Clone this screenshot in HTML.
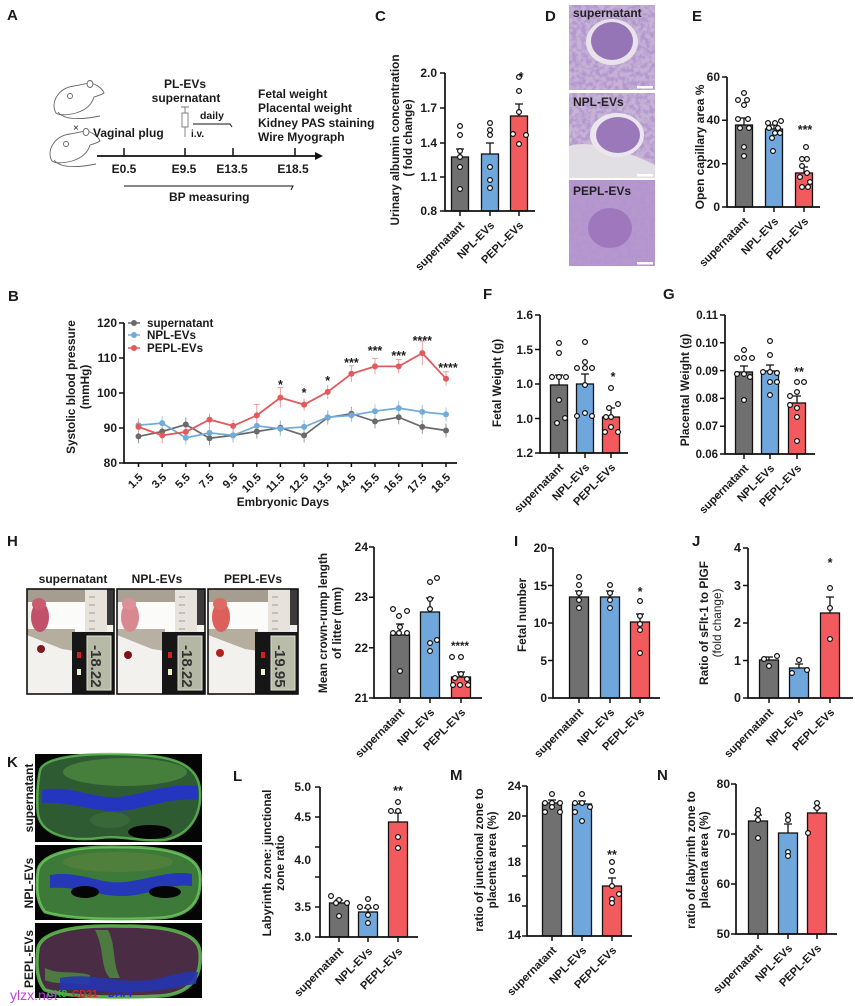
<!DOCTYPE html>
<html><head><meta charset="utf-8">
<style>
html,body{margin:0;padding:0;background:#fff;}
svg{display:block;}
text{font-family:"Liberation Sans",Arial,sans-serif;font-weight:bold;fill:#1b1b1b;}
.pl{font-size:15px;}
.tk{font-size:12px;}
.xl{font-size:11.2px;}
.ti{font-size:11.8px;}
.st{font-size:12.5px;}
.ax{stroke:#111;stroke-width:1.7;fill:none;}
.tm{stroke:#111;stroke-width:1.5;fill:none;}
.g{fill:#707070;stroke:#111;stroke-width:1.3;}
.b{fill:#6fa7dd;stroke:#111;stroke-width:1.3;}
.r{fill:#f25a5d;stroke:#111;stroke-width:1.3;}
.e{stroke:#111;stroke-width:1.3;fill:none;}
.d circle{fill:#fff;stroke:#111;stroke-width:1.2;}
</style></head><body>
<svg width="855" height="1006" viewBox="0 0 855 1006" xmlns="http://www.w3.org/2000/svg">
<defs>
<filter id="his" x="0" y="0" width="100%" height="100%">
<feTurbulence type="fractalNoise" baseFrequency="0.22" numOctaves="2" seed="4"/>
<feColorMatrix type="matrix" values="0 0 0 0 0.45  0 0 0 0 0.30  0 0 0 0 0.62  4 0 0 0 -1.6"/>
</filter>
</defs>
<rect width="855" height="1006" fill="#fff"/>

<!-- ================= PANEL A ================= -->
<text class="pl" x="7" y="20">A</text>
<g fill="#fff" stroke="#666" stroke-width="0.9">
<path d="M56,113 C50,103 58,88 74,86 C82,85 88,82 94,84 C99,86 103,90 104,93 C101,95 97,96 94,97 C92,104 86,110 76,113 C68,115 60,116 56,113 Z"/>
<ellipse cx="90" cy="84" rx="3" ry="3.5"/>
<path d="M58,112 C64,120 80,120 100,116" fill="none"/>
<circle cx="70" cy="96" r="2.5"/>
<g transform="translate(-4,48)">
<path d="M56,113 C50,103 58,88 74,86 C82,85 88,82 94,84 C99,86 103,90 104,93 C101,95 97,96 94,97 C92,104 86,110 76,113 C68,115 60,116 56,113 Z"/>
<ellipse cx="90" cy="84" rx="3" ry="3.5"/>
<path d="M58,112 C64,120 80,120 100,116" fill="none"/>
<circle cx="70" cy="96" r="2.5"/>
</g>
</g>
<text x="73" y="131" style="font-size:10px;font-weight:normal">×</text>
<path d="M97,156 H317" stroke="#111" stroke-width="1.8"/>
<polygon points="315,152 323,156 315,160" fill="#111"/>
<path d="M124,148V156M185,148V156M233,148V156M295,148V156" stroke="#111" stroke-width="1.5"/>
<g style="font-size:12px" text-anchor="middle">
<text x="124" y="173">E0.5</text><text x="184" y="173">E9.5</text><text x="232" y="173">E13.5</text><text x="293" y="173">E18.5</text>
<text x="185" y="88">PL-EVs</text><text x="186" y="102">supernatant</text>
</g>
<text x="93" y="137" style="font-size:12px">Vaginal plug</text>
<g stroke="#777" stroke-width="0.9" fill="#fff">
<path d="M185,107V113M181,107H189"/>
<rect x="182" y="113" width="6" height="14"/>
<path d="M185,127V137"/>
</g>
<text x="191" y="137" style="font-size:10px">i.v.</text>
<text x="200" y="119" style="font-size:10.5px">daily</text>
<path d="M193,124H230L232,127" stroke="#111" stroke-width="1" fill="none"/>
<g style="font-size:12px">
<text x="258" y="98">Fetal weight</text>
<text x="258" y="112">Placental weight</text>
<text x="258" y="127">Kidney PAS staining</text>
<text x="258" y="141">Wire Myograph</text>
</g>
<path d="M124,186H293L291,190" stroke="#111" stroke-width="1" fill="none"/>
<text x="169" y="201" style="font-size:12px">BP measuring</text>

<!-- ================= PANEL C ================= -->
<text class="pl" x="375" y="21">C</text>
<rect class="g" x="451.5" y="157" width="17" height="54"/>
<rect class="b" x="481.5" y="154" width="17" height="57"/>
<rect class="r" x="510.5" y="116" width="17" height="95"/>
<path class="e" d="M460,157V149M456,149h8M490,154V143M486,143h8M519,116V104M515,104h8"/>
<g class="d">
<circle cx="460" cy="126" r="2.4"/><circle cx="460" cy="135" r="2.4"/><circle cx="460" cy="151" r="2.4"/><circle cx="460" cy="157" r="2.4"/><circle cx="460" cy="167" r="2.4"/><circle cx="460" cy="189" r="2.4"/>
<circle cx="490" cy="123" r="2.4"/><circle cx="490" cy="130" r="2.4"/><circle cx="490" cy="135" r="2.4"/><circle cx="490" cy="167" r="2.4"/><circle cx="490" cy="180" r="2.4"/><circle cx="490" cy="188" r="2.4"/>
<circle cx="519" cy="77" r="2.4"/><circle cx="519" cy="91" r="2.4"/><circle cx="519" cy="112" r="2.4"/><circle cx="513" cy="134" r="2.4"/><circle cx="526" cy="135" r="2.4"/><circle cx="519" cy="144" r="2.4"/>
</g>
<path class="ax" d="M445,73V211H535"/>
<path class="tm" d="M440,73H445M440,108H445M440,143H445M440,177H445M440,211H445M460,211V216M490,211V216M519,211V216"/>
<g class="tk" text-anchor="end"><text x="437" y="77">2.0</text><text x="437" y="112">1.7</text><text x="437" y="147">1.4</text><text x="437" y="181">1.1</text><text x="437" y="215">0.8</text></g>
<text class="st" x="521" y="81" text-anchor="middle">*</text>
<text class="ti" text-anchor="middle" transform="translate(399,140) rotate(-90)">Urinary albumin concentration</text>
<text class="ti" text-anchor="middle" transform="translate(412,138) rotate(-90)">( fold change)</text>
<g class="xl" text-anchor="end">
<text transform="translate(465,226) rotate(-45)">supernatant</text>
<text transform="translate(495,226) rotate(-45)">NPL-EVs</text>
<text transform="translate(524,226) rotate(-45)">PEPL-EVs</text>
</g>

<!-- ================= PANEL D ================= -->
<text class="pl" x="545" y="21">D</text>
<rect x="569" y="5" width="86" height="85" fill="#c5b2d6"/>
<rect x="569" y="5" width="86" height="85" filter="url(#his)" opacity="0.9"/>
<ellipse cx="612" cy="42" rx="26" ry="23" fill="#e8e2eb"/>
<ellipse cx="612" cy="41" rx="21" ry="19" fill="#9675b6"/>
<rect x="569" y="93" width="86" height="85" fill="#c6b4d6"/>
<rect x="569" y="93" width="86" height="85" filter="url(#his)" opacity="0.9"/>
<path d="M569,146 C590,140 620,150 640,158 L655,165 V178 H569Z" fill="#e2dfe4"/>
<ellipse cx="617" cy="135" rx="27" ry="22" fill="#ebe6ed"/>
<ellipse cx="618" cy="135" rx="22" ry="18" fill="#9a78ba"/>
<rect x="569" y="180" width="86" height="86" fill="#b697ce"/>
<rect x="569" y="180" width="86" height="86" filter="url(#his)" opacity="0.95"/>
<ellipse cx="610" cy="228" rx="22" ry="20" fill="#9a72b8" opacity="0.85"/>
<g fill="#fff"><rect x="637" y="86" width="16" height="2.5"/><rect x="637" y="174" width="16" height="2.5"/><rect x="637" y="262" width="16" height="2.5"/></g>
<g style="font-size:12px">
<text x="573" y="17" style="fill:#222">supernatant</text><text x="573" y="106" style="fill:#222">NPL-EVs</text><text x="573" y="195" style="fill:#222">PEPL-EVs</text>
</g>

<!-- ================= PANEL E ================= -->
<text class="pl" x="692" y="21">E</text>
<rect class="g" x="735.5" y="125" width="17" height="82"/>
<rect class="b" x="765.5" y="129" width="17" height="78"/>
<rect class="r" x="795.5" y="173" width="17" height="34"/>
<path class="e" d="M744,125V118M740,118h8M774,129V125M770,125h8M804,173V167M800,167h8"/>
<g class="d">
<circle cx="744" cy="93" r="2.4"/><circle cx="738" cy="100" r="2.4"/><circle cx="747" cy="100" r="2.4"/><circle cx="744" cy="105" r="2.4"/><circle cx="738" cy="119" r="2.4"/><circle cx="748" cy="119" r="2.4"/><circle cx="740" cy="128" r="2.4"/><circle cx="749" cy="128" r="2.4"/><circle cx="744" cy="147" r="2.4"/><circle cx="744" cy="156" r="2.4"/>
<circle cx="768" cy="123" r="2.4"/><circle cx="775" cy="123" r="2.4"/><circle cx="781" cy="121" r="2.4"/><circle cx="769" cy="128" r="2.4"/><circle cx="778" cy="128" r="2.4"/><circle cx="775" cy="133" r="2.4"/><circle cx="780" cy="133" r="2.4"/><circle cx="772" cy="138" r="2.4"/><circle cx="773" cy="151" r="2.4"/>
<circle cx="806" cy="147" r="2.4"/><circle cx="802" cy="159" r="2.4"/><circle cx="807" cy="159" r="2.4"/><circle cx="802" cy="166" r="2.4"/><circle cx="807" cy="173" r="2.4"/><circle cx="800" cy="177" r="2.4"/><circle cx="802" cy="187" r="2.4"/><circle cx="808" cy="187" r="2.4"/><circle cx="810" cy="182" r="2.4"/>
</g>
<path class="ax" d="M727,77V207H820"/>
<path class="tm" d="M722,77H727M722,120.3H727M722,163.7H727M722,207H727M744,207V212M774,207V212M804,207V212"/>
<g class="tk" text-anchor="end"><text x="720" y="81">60</text><text x="720" y="124">40</text><text x="720" y="168">20</text><text x="720" y="211">0</text></g>
<text class="st" x="805" y="134" text-anchor="middle">***</text>
<text class="ti" text-anchor="middle" transform="translate(704,147) rotate(-90)" style="font-size:12px">Open capillary area %</text>
<g class="xl" text-anchor="end">
<text transform="translate(749,222) rotate(-45)">supernatant</text>
<text transform="translate(779,222) rotate(-45)">NPL-EVs</text>
<text transform="translate(809,222) rotate(-45)">PEPL-EVs</text>
</g>

<!-- ================= PANEL B ================= -->
<text class="pl" x="8" y="301">B</text>
<path stroke="#9a9a9a" stroke-width="1" fill="none" d="M138.5,429.4V443.4M162.2,424.5V438.5M185.8,417.5V431.5M209.5,431.2V445.2M233.1,428.4V442.4M256.8,424.5V438.5M280.4,420.7V434.7M304.1,428.4V442.4M327.7,410.5V424.5M351.4,406.7V420.7M375,414.4V428.4M398.7,410.2V424.2M422.3,419.9V433.9M446,423.5V437.5"/>
<path stroke="#a3c8e8" stroke-width="1" fill="none" d="M138.5,418.2V432.2M162.2,416.1V430.1M185.8,430.8V444.8M209.5,425.9V439.9M233.1,428.4V442.4M256.8,418.9V432.9M280.4,421.7V435.7M304.1,419.9V433.9M327.7,410.2V424.2M351.4,408.4V422.4M375,404.2V418.2M398.7,401.1V415.1M422.3,404.9V418.9M446,407.4V421.4"/>
<path stroke="#ec9fa1" stroke-width="1" fill="none" d="M138.5,418.9V434.9M162.2,427.4V443.4M185.8,423.9V439.9M209.5,413.6V425.6M233.1,419.9V431.9M256.8,404.4V426.4M280.4,387.6V407.6M304.1,398.6V410.6M327.7,384.9V398.9M351.4,365.8V381.8M375,358.4V374.4M398.7,359.4V373.4M422.3,341.1V365.1M446,371.7V385.7M253.8,404.4h6M277.4,387.6h6M349,365.8h5M372,358.4h6M395.7,359.4h6M419.3,341.1h6M443,371.7h6"/>
<polyline fill="none" stroke="#6a6a6a" stroke-width="1.7" points="138.5,436.4 162.2,431.5 185.8,424.5 209.5,438.2 233.1,435.4 256.8,431.5 280.4,427.7 304.1,435.4 327.7,417.5 351.4,413.7 375,421.4 398.7,417.2 422.3,426.9 446,430.5"/>
<polyline fill="none" stroke="#74aad8" stroke-width="1.7" points="138.5,425.2 162.2,423.1 185.8,437.8 209.5,432.9 233.1,435.4 256.8,425.9 280.4,428.7 304.1,426.9 327.7,417.2 351.4,415.4 375,411.2 398.7,408.1 422.3,411.9 446,414.4"/>
<polyline fill="none" stroke="#e05a5e" stroke-width="1.8" points="138.5,426.9 162.2,435.4 185.8,431.9 209.5,419.6 233.1,425.9 256.8,415.4 280.4,397.6 304.1,404.6 327.7,391.9 351.4,373.8 375,366.4 398.7,366.4 422.3,353.1 446,378.7"/>
<g fill="#6a6a6a">
<circle cx="138.5" cy="436.4" r="3"/><circle cx="162.2" cy="431.5" r="3"/><circle cx="185.8" cy="424.5" r="3"/><circle cx="209.5" cy="438.2" r="3"/><circle cx="233.1" cy="435.4" r="3"/><circle cx="256.8" cy="431.5" r="3"/><circle cx="280.4" cy="427.7" r="3"/><circle cx="304.1" cy="435.4" r="3"/><circle cx="327.7" cy="417.5" r="3"/><circle cx="351.4" cy="413.7" r="3"/><circle cx="375" cy="421.4" r="3"/><circle cx="398.7" cy="417.2" r="3"/><circle cx="422.3" cy="426.9" r="3"/><circle cx="446" cy="430.5" r="3"/>
</g>
<g fill="#74aad8">
<circle cx="138.5" cy="425.2" r="3"/><circle cx="162.2" cy="423.1" r="3"/><circle cx="185.8" cy="437.8" r="3"/><circle cx="209.5" cy="432.9" r="3"/><circle cx="233.1" cy="435.4" r="3"/><circle cx="256.8" cy="425.9" r="3"/><circle cx="280.4" cy="428.7" r="3"/><circle cx="304.1" cy="426.9" r="3"/><circle cx="327.7" cy="417.2" r="3"/><circle cx="351.4" cy="415.4" r="3"/><circle cx="375" cy="411.2" r="3"/><circle cx="398.7" cy="408.1" r="3"/><circle cx="422.3" cy="411.9" r="3"/><circle cx="446" cy="414.4" r="3"/>
</g>
<g fill="#e05a5e">
<circle cx="138.5" cy="426.9" r="3"/><circle cx="162.2" cy="435.4" r="3"/><circle cx="185.8" cy="431.9" r="3"/><circle cx="209.5" cy="419.6" r="3"/><circle cx="233.1" cy="425.9" r="3"/><circle cx="256.8" cy="415.4" r="3"/><circle cx="280.4" cy="397.6" r="3"/><circle cx="304.1" cy="404.6" r="3"/><circle cx="327.7" cy="391.9" r="3"/><circle cx="351.4" cy="373.8" r="3"/><circle cx="375" cy="366.4" r="3"/><circle cx="398.7" cy="366.4" r="3"/><circle cx="422.3" cy="353.1" r="3"/><circle cx="446" cy="378.7" r="3"/>
</g>
<path class="ax" d="M124,323V463H457"/>
<path class="tm" d="M119,323H124M119,358H124M119,393H124M119,428H124M119,463H124M138.5,463v4M162.2,463v4M185.8,463v4M209.5,463v4M233.1,463v4M256.8,463v4M280.4,463v4M304.1,463v4M327.7,463v4M351.4,463v4M375,463v4M398.7,463v4M422.3,463v4M446,463v4"/>
<g class="tk" text-anchor="end"><text x="117" y="327">120</text><text x="117" y="362">110</text><text x="117" y="397">100</text><text x="117" y="432">90</text><text x="117" y="467">80</text></g>
<g class="xl" text-anchor="end">
<text transform="translate(143.5,478) rotate(-45)">1.5</text>
<text transform="translate(167.2,478) rotate(-45)">3.5</text>
<text transform="translate(190.8,478) rotate(-45)">5.5</text>
<text transform="translate(214.5,478) rotate(-45)">7.5</text>
<text transform="translate(238.1,478) rotate(-45)">9.5</text>
<text transform="translate(261.8,478) rotate(-45)">10.5</text>
<text transform="translate(285.4,478) rotate(-45)">11.5</text>
<text transform="translate(309.1,478) rotate(-45)">12.5</text>
<text transform="translate(332.7,478) rotate(-45)">13.5</text>
<text transform="translate(356.4,478) rotate(-45)">14.5</text>
<text transform="translate(380,478) rotate(-45)">15.5</text>
<text transform="translate(403.7,478) rotate(-45)">16.5</text>
<text transform="translate(427.3,478) rotate(-45)">17.5</text>
<text transform="translate(451,478) rotate(-45)">18.5</text>
</g>
<g class="st" text-anchor="middle">
<text x="280.4" y="389">*</text><text x="304.1" y="397">*</text><text x="327.7" y="385">*</text><text x="351.4" y="367">***</text><text x="375" y="355">***</text><text x="398.7" y="360">***</text><text x="422.3" y="345">****</text><text x="448" y="372">****</text>
</g>
<path d="M128,323H140" stroke="#6a6a6a" stroke-width="1.5"/><circle cx="134" cy="323" r="3" fill="#6a6a6a"/>
<path d="M128,335H140" stroke="#74aad8" stroke-width="1.5"/><circle cx="134" cy="335" r="3" fill="#74aad8"/>
<path d="M128,348H140" stroke="#e05a5e" stroke-width="1.5"/><circle cx="134" cy="348" r="3" fill="#e05a5e"/>
<g style="font-size:11.6px"><text x="147" y="327">supernatant</text><text x="147" y="339">NPL-EVs</text><text x="147" y="352">PEPL-EVs</text></g>
<text x="283" y="506" text-anchor="middle" style="font-size:11.8px">Embryonic Days</text>
<text class="ti" text-anchor="middle" transform="translate(75,387) rotate(-90)">Systolic blood pressure</text>
<text class="ti" text-anchor="middle" transform="translate(89,387) rotate(-90)">(mmHg)</text>

<!-- ================= PANEL F ================= -->
<text class="pl" x="483" y="299">F</text>
<rect class="g" x="550.5" y="385" width="17" height="68"/>
<rect class="b" x="576.5" y="384" width="17" height="69"/>
<rect class="r" x="602.5" y="417" width="17" height="36"/>
<path class="e" d="M559,385V375M555,375h8M585,384V374M581,374h8M611,417V408M607,408h8"/>
<g class="d">
<circle cx="559" cy="343" r="2.4"/><circle cx="559" cy="353" r="2.4"/><circle cx="552" cy="377" r="2.4"/><circle cx="559" cy="377" r="2.4"/><circle cx="566" cy="377" r="2.4"/><circle cx="559" cy="400" r="2.4"/><circle cx="557" cy="423" r="2.4"/><circle cx="565" cy="418" r="2.4"/>
<circle cx="585" cy="342" r="2.4"/><circle cx="585" cy="362" r="2.4"/><circle cx="577" cy="368" r="2.4"/><circle cx="585" cy="368" r="2.4"/><circle cx="592" cy="368" r="2.4"/><circle cx="585" cy="385" r="2.4"/><circle cx="577" cy="416" r="2.4"/><circle cx="585" cy="413" r="2.4"/><circle cx="592" cy="416" r="2.4"/>
<circle cx="611" cy="388" r="2.4"/><circle cx="609" cy="408" r="2.4"/><circle cx="618" cy="404" r="2.4"/><circle cx="605" cy="432" r="2.4"/><circle cx="618" cy="432" r="2.4"/><circle cx="611" cy="427" r="2.4"/><circle cx="611" cy="417" r="2.4"/><circle cx="606" cy="417" r="2.4"/>
</g>
<path class="ax" d="M540,315V453H628"/>
<path class="tm" d="M535,315H540M535,349.5H540M535,384H540M535,418.5H540M535,453H540M559,453v5M585,453v5M611,453v5"/>
<g class="tk" text-anchor="end"><text x="533" y="319">1.6</text><text x="533" y="354">1.5</text><text x="533" y="388">1.0</text><text x="533" y="423">1.0</text><text x="533" y="457">1.2</text></g>
<text class="st" x="613" y="381" text-anchor="middle">*</text>
<text class="ti" text-anchor="middle" transform="translate(501,383) rotate(-90)">Fetal Weight (g)</text>
<g class="xl" text-anchor="end">
<text transform="translate(564,468) rotate(-45)">supernatant</text>
<text transform="translate(590,468) rotate(-45)">NPL-EVs</text>
<text transform="translate(616,468) rotate(-45)">PEPL-EVs</text>
</g>

<!-- ================= PANEL G ================= -->
<text class="pl" x="663" y="299">G</text>
<rect class="g" x="735.5" y="372" width="17" height="82"/>
<rect class="b" x="761.5" y="371" width="17" height="83"/>
<rect class="r" x="788.5" y="403" width="17" height="51"/>
<path class="e" d="M744,372V366M740,366h8M770,371V365M766,365h8M797,403V396M793,396h8"/>
<g class="d">
<circle cx="744" cy="350" r="2.4"/><circle cx="737" cy="358" r="2.4"/><circle cx="744" cy="358" r="2.4"/><circle cx="752" cy="358" r="2.4"/><circle cx="737" cy="374" r="2.4"/><circle cx="744" cy="374" r="2.4"/><circle cx="750" cy="377" r="2.4"/><circle cx="744" cy="400" r="2.4"/>
<circle cx="770" cy="341" r="2.4"/><circle cx="770" cy="355" r="2.4"/><circle cx="763" cy="372" r="2.4"/><circle cx="770" cy="372" r="2.4"/><circle cx="777" cy="373" r="2.4"/><circle cx="770" cy="382" r="2.4"/><circle cx="777" cy="382" r="2.4"/><circle cx="770" cy="395" r="2.4"/>
<circle cx="797" cy="382" r="2.4"/><circle cx="804" cy="382" r="2.4"/><circle cx="797" cy="392" r="2.4"/><circle cx="790" cy="396" r="2.4"/><circle cx="790" cy="405" r="2.4"/><circle cx="797" cy="408" r="2.4"/><circle cx="797" cy="417" r="2.4"/><circle cx="797" cy="441" r="2.4"/>
</g>
<path class="ax" d="M725,315V454H815"/>
<path class="tm" d="M720,315H725M720,342.8H725M720,370.6H725M720,398.4H725M720,426.2H725M720,454H725M744,454v5M770,454v5M797,454v5"/>
<g class="tk" text-anchor="end" style="font-size:11.5px"><text x="718" y="319">0.11</text><text x="718" y="347">0.10</text><text x="718" y="375">0.09</text><text x="718" y="402">0.08</text><text x="718" y="430">0.07</text><text x="718" y="458">0.06</text></g>
<text class="st" x="799" y="376" text-anchor="middle">**</text>
<text class="ti" text-anchor="middle" transform="translate(689,390) rotate(-90)">Placental Weight (g)</text>
<g class="xl" text-anchor="end">
<text transform="translate(749,469) rotate(-45)">supernatant</text>
<text transform="translate(775,469) rotate(-45)">NPL-EVs</text>
<text transform="translate(802,469) rotate(-45)">PEPL-EVs</text>
</g>

<!-- ================= PANEL H ================= -->
<text class="pl" x="7" y="546">H</text>
<g style="font-size:12px" text-anchor="middle"><text x="73" y="583">supernatant</text><text x="157" y="583">NPL-EVs</text><text x="253" y="583">PEPL-EVs</text></g>
<g transform="translate(27,589)">
<rect width="87" height="105" fill="#f3f1ee"/>
<rect width="60" height="13" fill="#a49d90"/>
<rect x="18" y="13" width="40" height="29" fill="#fbfbf9"/>
<rect x="58" y="0" width="22" height="46" fill="#e7e3db"/>
<path d="M62,8h6M62,16h6M62,24h6M62,32h6M62,40h6" stroke="#888" stroke-width="0.8"/>
<rect x="80" y="0" width="7" height="36" fill="#3a3a3a"/>
<polygon points="0,40 48,40 48,62 35,60 0,46" fill="#b5ae9f"/>
<rect x="45" y="43" width="42" height="62" fill="#161616"/>
<rect x="60" y="47" width="24" height="54" fill="#b7baa6" stroke="#e0e0d8" stroke-width="1"/>
<rect x="50" y="63" width="4" height="6" fill="#d02020"/><rect x="50" y="80" width="4" height="6" fill="#f0f0d0"/>
<text transform="translate(64,56) rotate(90)" style="font-size:15px;fill:#333">-18.22</text>
<ellipse cx="13" cy="28" rx="9" ry="15" fill="#c2506a"/>
<ellipse cx="12" cy="15" rx="7" ry="6" fill="#c95a70"/>
<circle cx="14" cy="60" r="4" fill="#7d1a1e"/>
<rect width="87" height="105" fill="none" stroke="#111" stroke-width="1.6"/>
</g>
<g transform="translate(117,589)">
<rect width="88" height="105" fill="#f3f1ee"/>
<rect width="60" height="13" fill="#a8a194"/>
<rect x="18" y="13" width="40" height="29" fill="#fbfbf9"/>
<rect x="58" y="0" width="22" height="46" fill="#e7e3db"/>
<path d="M62,8h6M62,16h6M62,24h6M62,32h6M62,40h6" stroke="#888" stroke-width="0.8"/>
<rect x="80" y="0" width="8" height="36" fill="#3a3a3a"/>
<polygon points="0,40 48,40 48,62 35,60 0,46" fill="#b8b1a3"/>
<rect x="45" y="43" width="43" height="62" fill="#161616"/>
<rect x="61" y="47" width="24" height="54" fill="#b4b7a3" stroke="#e0e0d8" stroke-width="1"/>
<rect x="51" y="63" width="4" height="6" fill="#d02020"/><rect x="51" y="80" width="4" height="6" fill="#f0f0d0"/>
<text transform="translate(65,56) rotate(90)" style="font-size:15px;fill:#333">-18.22</text>
<ellipse cx="13" cy="28" rx="9" ry="15" fill="#d8888f"/>
<ellipse cx="12" cy="15" rx="7" ry="6" fill="#dc9098"/>
<circle cx="11" cy="66" r="4" fill="#7a1518"/>
<rect width="88" height="105" fill="none" stroke="#111" stroke-width="1.6"/>
</g>
<g transform="translate(208,589)">
<rect width="90" height="105" fill="#f3f1ee"/>
<rect width="62" height="13" fill="#a49d90"/>
<rect x="18" y="13" width="42" height="29" fill="#fbfbf9"/>
<rect x="60" y="0" width="22" height="46" fill="#e7e3db"/>
<path d="M64,8h6M64,16h6M64,24h6M64,32h6M64,40h6" stroke="#888" stroke-width="0.8"/>
<rect x="82" y="0" width="8" height="36" fill="#3a3a3a"/>
<polygon points="0,40 50,40 50,62 37,60 0,46" fill="#b5ae9f"/>
<rect x="47" y="43" width="43" height="62" fill="#161616"/>
<rect x="63" y="47" width="24" height="54" fill="#b9bca8" stroke="#e0e0d8" stroke-width="1"/>
<rect x="53" y="63" width="4" height="6" fill="#d02020"/><rect x="53" y="80" width="4" height="6" fill="#f0f0d0"/>
<text transform="translate(67,56) rotate(90)" style="font-size:15px;fill:#333">-19.95</text>
<ellipse cx="13" cy="28" rx="9" ry="15" fill="#dc5f5b"/>
<ellipse cx="12" cy="15" rx="7" ry="6" fill="#de6a64"/>
<circle cx="12" cy="64" r="4" fill="#b3201d"/>
<rect width="90" height="105" fill="none" stroke="#111" stroke-width="1.6"/>
</g>
<rect class="g" x="390.5" y="635" width="19" height="63"/>
<rect class="b" x="420.5" y="612" width="19" height="86"/>
<rect class="r" x="451.5" y="677" width="19" height="21"/>
<path class="e" d="M400,635V624M396,624h8M430,612V598M426,598h8M461,677V672M457,672h8"/>
<g class="d">
<circle cx="393" cy="609" r="2.4"/><circle cx="399" cy="616" r="2.4"/><circle cx="407" cy="611" r="2.4"/><circle cx="393" cy="633" r="2.4"/><circle cx="399" cy="633" r="2.4"/><circle cx="407" cy="633" r="2.4"/><circle cx="400" cy="627" r="2.4"/><circle cx="400" cy="671" r="2.4"/>
<circle cx="430" cy="582" r="2.4"/><circle cx="437" cy="578" r="2.4"/><circle cx="430" cy="599" r="2.4"/><circle cx="430" cy="609" r="2.4"/><circle cx="430" cy="643" r="2.4"/><circle cx="430" cy="651" r="2.4"/><circle cx="437" cy="640" r="2.4"/>
<circle cx="452" cy="657" r="2.4"/><circle cx="461" cy="657" r="2.4"/><circle cx="455" cy="678" r="2.4"/><circle cx="461" cy="674" r="2.4"/><circle cx="467" cy="679" r="2.4"/><circle cx="453" cy="685" r="2.4"/><circle cx="460" cy="685" r="2.4"/><circle cx="468" cy="685" r="2.4"/>
</g>
<path class="ax" d="M374,547V698H482"/>
<path class="tm" d="M369,547H374M369,597.3H374M369,647.7H374M369,698H374M400,698v5M430,698v5M461,698v5"/>
<g class="tk" text-anchor="end"><text x="368" y="551">24</text><text x="368" y="601">23</text><text x="368" y="652">22</text><text x="368" y="702">21</text></g>
<text class="st" x="460" y="650" text-anchor="middle" style="font-size:11.5px">****</text>
<text class="ti" text-anchor="middle" transform="translate(327,623) rotate(-90)">Mean crown-rump length</text>
<text class="ti" text-anchor="middle" transform="translate(341,623) rotate(-90)">of litter (mm)</text>
<g class="xl" text-anchor="end">
<text transform="translate(405,713) rotate(-45)">supernatant</text>
<text transform="translate(435,713) rotate(-45)">NPL-EVs</text>
<text transform="translate(466,713) rotate(-45)">PEPL-EVs</text>
</g>

<!-- ================= PANEL I ================= -->
<text class="pl" x="514" y="546">I</text>
<rect class="g" x="569.5" y="597" width="19" height="101"/>
<rect class="b" x="600.5" y="597" width="19" height="101"/>
<rect class="r" x="630.5" y="622" width="19" height="76"/>
<path class="e" d="M579,597V591M575,591h8M610,597V591M606,591h8M640,622V614M636,614h8"/>
<g class="d">
<circle cx="579" cy="577" r="2.4"/><circle cx="579" cy="585" r="2.4"/><circle cx="579" cy="593" r="2.4"/><circle cx="579" cy="600" r="2.4"/><circle cx="579" cy="608" r="2.4"/>
<circle cx="610" cy="585" r="2.4"/><circle cx="610" cy="593" r="2.4"/><circle cx="610" cy="600" r="2.4"/><circle cx="610" cy="608" r="2.4"/>
<circle cx="640" cy="601" r="2.4"/><circle cx="640" cy="616" r="2.4"/><circle cx="640" cy="624" r="2.4"/><circle cx="640" cy="630" r="2.4"/><circle cx="640" cy="653" r="2.4"/>
</g>
<path class="ax" d="M553,548V698H660"/>
<path class="tm" d="M548,548H553M548,585.5H553M548,623H553M548,660.5H553M548,698H553M579,698v5M610,698v5M640,698v5"/>
<g class="tk" text-anchor="end"><text x="547" y="552">20</text><text x="547" y="590">15</text><text x="547" y="627">10</text><text x="547" y="665">5</text><text x="547" y="702">0</text></g>
<text class="st" x="640" y="596" text-anchor="middle">*</text>
<text class="ti" text-anchor="middle" transform="translate(526,615) rotate(-90)">Fetal number</text>
<g class="xl" text-anchor="end">
<text transform="translate(584,713) rotate(-45)">supernatant</text>
<text transform="translate(615,713) rotate(-45)">NPL-EVs</text>
<text transform="translate(645,713) rotate(-45)">PEPL-EVs</text>
</g>

<!-- ================= PANEL J ================= -->
<text class="pl" x="692" y="546">J</text>
<rect class="g" x="759.5" y="660" width="19" height="38"/>
<rect class="b" x="789.5" y="668" width="19" height="30"/>
<rect class="r" x="820.5" y="613" width="19" height="85"/>
<path class="e" d="M769,660V657M765,657h8M799,668V664M795,664h8M830,613V597M826,597h8"/>
<g class="d">
<circle cx="769" cy="666" r="2.4"/><circle cx="777" cy="656" r="2.4"/><circle cx="764" cy="659" r="2.4"/>
<circle cx="792" cy="673" r="2.4"/><circle cx="799" cy="660" r="2.4"/><circle cx="807" cy="670" r="2.4"/>
<circle cx="830" cy="588" r="2.4"/><circle cx="830" cy="608" r="2.4"/><circle cx="830" cy="639" r="2.4"/>
</g>
<path class="ax" d="M748,548V698H853"/>
<path class="tm" d="M743,548H748M743,585.5H748M743,623H748M743,660.5H748M743,698H748M769,698v5M799,698v5M830,698v5"/>
<g class="tk" text-anchor="end" style="font-size:12.5px"><text x="741" y="552">4</text><text x="741" y="590">3</text><text x="741" y="627">2</text><text x="741" y="665">1</text><text x="741" y="702">0</text></g>
<text class="st" x="830" y="567" text-anchor="middle">*</text>
<text class="ti" text-anchor="middle" transform="translate(708,623) rotate(-90)">Ratio of sFlt-1 to PlGF</text>
<text class="ti" text-anchor="middle" transform="translate(721,623) rotate(-90)" style="font-weight:normal">(fold change)</text>
<g class="xl" text-anchor="end">
<text transform="translate(774,713) rotate(-45)">supernatant</text>
<text transform="translate(804,713) rotate(-45)">NPL-EVs</text>
<text transform="translate(835,713) rotate(-45)">PEPL-EVs</text>
</g>

<!-- ================= PANEL K ================= -->
<text class="pl" x="7" y="767">K</text>
<rect x="35" y="754" width="167" height="88" fill="#050505"/>
<path d="M40,770 C45,756 90,752 140,755 C175,757 198,765 200,790 C202,815 190,835 165,840 C140,842 120,835 100,838 C70,842 42,835 38,815 C36,800 38,780 40,770 Z" fill="#2f5b33"/>
<ellipse cx="125" cy="772" rx="62" ry="14" fill="#4f8f3e" opacity="0.7"/>
<path d="M40,770 C45,756 90,752 140,755 C175,757 198,765 200,790 C202,815 190,835 165,840 C140,842 120,835 100,838 C70,842 42,835 38,815 C36,800 38,780 40,770 Z" fill="none" stroke="#62c455" stroke-width="2.5" opacity="0.8"/>
<path d="M42,790 C70,784 95,800 120,797 C145,794 165,783 198,786 L198,800 C170,797 145,809 120,811 C95,813 70,801 42,803 Z" fill="#2436c0"/>
<ellipse cx="150" cy="832" rx="22" ry="7" fill="#050505"/>
<ellipse cx="110" cy="820" rx="20" ry="8" fill="#3c6e3a" opacity="0.7"/>
<rect x="35" y="845" width="167" height="75" fill="#050505"/>
<path d="M38,870 C42,852 80,846 120,847 C160,847 198,852 200,875 C202,900 192,916 160,918 C120,920 70,920 45,912 C36,902 36,885 38,870 Z" fill="#3d7a3a"/>
<path d="M38,870 C42,852 80,846 120,847 C160,847 198,852 200,875 C202,900 192,916 160,918 C120,920 70,920 45,912 C36,902 36,885 38,870 Z" fill="none" stroke="#6fd060" stroke-width="3" opacity="0.8"/>
<ellipse cx="118" cy="862" rx="55" ry="10" fill="#557f3c" opacity="0.8"/>
<path d="M50,875 C80,870 100,885 125,882 C150,879 170,870 192,874 L192,886 C170,883 150,895 125,896 C100,897 80,886 50,888 Z" fill="#2538b8"/>
<ellipse cx="85" cy="892" rx="14" ry="6" fill="#050505"/>
<ellipse cx="165" cy="892" rx="16" ry="6" fill="#050505"/>
<rect x="35" y="923" width="167" height="75" fill="#050505"/>
<path d="M38,948 C42,930 80,925 120,926 C160,926 198,930 200,952 C202,975 192,994 160,996 C120,998 70,998 45,990 C36,980 36,962 38,948 Z" fill="#4a2c45"/>
<path d="M38,948 C42,930 80,925 120,926 C160,926 198,930 200,952 C202,975 192,994 160,996 C120,998 70,998 45,990 C36,980 36,962 38,948 Z" fill="none" stroke="#5fc050" stroke-width="3.5" opacity="0.85"/>
<path d="M95,930 C105,950 100,968 110,978 L120,978 C112,962 116,945 108,930 Z" fill="#4e8f3e" opacity="0.8"/>
<path d="M45,968 C60,975 70,970 90,975 L90,985 C70,982 55,985 45,980 Z" fill="#4e8f3e" opacity="0.8"/>
<path d="M60,978 C90,972 120,984 150,980 C170,977 185,970 198,972 L196,984 C180,986 160,992 130,992 C100,992 80,988 60,990 Z" fill="#2535b0" opacity="0.9"/>
<g style="font-size:12px" text-anchor="middle">
<text transform="translate(33,798) rotate(-90)">supernatant</text>
<text transform="translate(33,883) rotate(-90)">NPL-EVs</text>
<text transform="translate(33,959) rotate(-90)">PEPL-EVs</text>
</g>
<text x="47" y="997" style="font-size:10px;fill:#3fb040">CK8</text>
<text x="72" y="997" style="font-size:10px;fill:#c03030">CD31</text>
<text x="108" y="997" style="font-size:10px;fill:#2030d0">DAPI</text>
<text x="10" y="1000" style="font-size:14px;font-weight:normal;fill:#c23fe0">ylzx.net</text>

<!-- ================= PANEL L ================= -->
<text class="pl" x="233" y="781">L</text>
<rect class="g" x="329.5" y="903" width="19" height="34"/>
<rect class="b" x="358.5" y="912" width="19" height="25"/>
<rect class="r" x="388.5" y="822" width="19" height="115"/>
<path class="e" d="M339,903V900M335,900h8M368,912V908M364,908h8M398,822V813M394,813h8"/>
<g class="d">
<circle cx="331" cy="896" r="2.4"/><circle cx="339" cy="900" r="2.4"/><circle cx="347" cy="903" r="2.4"/><circle cx="336" cy="903" r="2.4"/><circle cx="339" cy="916" r="2.4"/>
<circle cx="368" cy="899" r="2.4"/><circle cx="360" cy="907" r="2.4"/><circle cx="368" cy="907" r="2.4"/><circle cx="376" cy="907" r="2.4"/><circle cx="368" cy="915" r="2.4"/><circle cx="368" cy="923" r="2.4"/>
<circle cx="398" cy="802" r="2.4"/><circle cx="391" cy="811" r="2.4"/><circle cx="398" cy="811" r="2.4"/><circle cx="398" cy="837" r="2.4"/><circle cx="398" cy="848" r="2.4"/>
</g>
<path class="ax" d="M320,787V937H418"/>
<path class="tm" d="M315,787H320M315,817H320M315,847H320M315,877H320M315,907H320M315,937H320M339,937v5M368,937v5M398,937v5"/>
<g class="tk" text-anchor="end"><text x="311" y="791">5.0</text><text x="311" y="821">4.5</text><text x="311" y="864">4.0</text><text x="311" y="911">3.5</text><text x="311" y="941">3.0</text></g>
<text class="st" x="398" y="795" text-anchor="middle">**</text>
<text class="ti" text-anchor="middle" transform="translate(271,863) rotate(-90)">Labyrinth zone: junctional</text>
<text class="ti" text-anchor="middle" transform="translate(284,863) rotate(-90)">zone  ratio</text>
<g class="xl" text-anchor="end">
<text transform="translate(344,952) rotate(-45)">supernatant</text>
<text transform="translate(373,952) rotate(-45)">NPL-EVs</text>
<text transform="translate(403,952) rotate(-45)">PEPL-EVs</text>
</g>

<!-- ================= PANEL M ================= -->
<text class="pl" x="450" y="780">M</text>
<rect class="g" x="542.5" y="803" width="19" height="133"/>
<rect class="b" x="572.5" y="804" width="19" height="132"/>
<rect class="r" x="602.5" y="886" width="19" height="50"/>
<path class="e" d="M552,803V800M548,800h8M582,804V801M578,801h8M612,886V878M608,878h8"/>
<g class="d">
<circle cx="552" cy="794" r="2.4"/><circle cx="545" cy="803" r="2.4"/><circle cx="552" cy="803" r="2.4"/><circle cx="560" cy="803" r="2.4"/><circle cx="545" cy="812" r="2.4"/><circle cx="552" cy="807" r="2.4"/><circle cx="560" cy="812" r="2.4"/>
<circle cx="582" cy="794" r="2.4"/><circle cx="575" cy="803" r="2.4"/><circle cx="582" cy="803" r="2.4"/><circle cx="590" cy="807" r="2.4"/><circle cx="575" cy="812" r="2.4"/><circle cx="582" cy="821" r="2.4"/>
<circle cx="612" cy="862" r="2.4"/><circle cx="612" cy="871" r="2.4"/><circle cx="612" cy="886" r="2.4"/><circle cx="619" cy="894" r="2.4"/><circle cx="612" cy="899" r="2.4"/><circle cx="612" cy="903" r="2.4"/>
</g>
<path class="ax" d="M527,786V936H632"/>
<path class="tm" d="M522,786H527M522,816H527M522,846H527M522,876H527M522,906H527M522,936H527M552,936v5M582,936v5M612,936v5"/>
<g class="tk" text-anchor="end"><text x="521" y="790">24</text><text x="521" y="820">20</text><text x="521" y="866">18</text><text x="521" y="902">16</text><text x="521" y="939">14</text></g>
<text class="st" x="612" y="859" text-anchor="middle">**</text>
<text class="ti" text-anchor="middle" transform="translate(483,860) rotate(-90)">ratio of junctional zone to</text>
<text class="ti" text-anchor="middle" transform="translate(496,860) rotate(-90)">placenta area (%)</text>
<g class="xl" text-anchor="end">
<text transform="translate(557,951) rotate(-45)">supernatant</text>
<text transform="translate(587,951) rotate(-45)">NPL-EVs</text>
<text transform="translate(617,951) rotate(-45)">PEPL-EVs</text>
</g>

<!-- ================= PANEL N ================= -->
<text class="pl" x="657" y="780">N</text>
<rect class="g" x="748.5" y="821" width="19" height="113"/>
<rect class="b" x="778.5" y="833" width="19" height="101"/>
<rect class="r" x="807.5" y="813" width="19" height="121"/>
<path class="e" d="M758,821V815M754,815h8M788,833V824M784,824h8M817,813V808M813,808h8"/>
<g class="d">
<circle cx="758" cy="810" r="2.4"/><circle cx="758" cy="814" r="2.4"/><circle cx="758" cy="820" r="2.4"/><circle cx="758" cy="838" r="2.4"/>
<circle cx="788" cy="815" r="2.4"/><circle cx="788" cy="820" r="2.4"/><circle cx="788" cy="852" r="2.4"/><circle cx="788" cy="856" r="2.4"/>
<circle cx="817" cy="803" r="2.4"/><circle cx="817" cy="808" r="2.4"/><circle cx="808" cy="833" r="2.4"/>
</g>
<path class="ax" d="M736,784V934H837"/>
<path class="tm" d="M731,784H736M731,834H736M731,884H736M731,934H736M758,934v5M788,934v5M817,934v5"/>
<g class="tk" text-anchor="end"><text x="730" y="788">80</text><text x="730" y="838">70</text><text x="730" y="888">60</text><text x="730" y="938">50</text></g>
<text class="ti" text-anchor="middle" transform="translate(695,860) rotate(-90)">ratio of labyrinth zone to</text>
<text class="ti" text-anchor="middle" transform="translate(708,860) rotate(-90)">placenta area (%)</text>
<g class="xl" text-anchor="end">
<text transform="translate(763,949) rotate(-45)">supernatant</text>
<text transform="translate(793,949) rotate(-45)">NPL-EVs</text>
<text transform="translate(822,949) rotate(-45)">PEPL-EVs</text>
</g>
</svg>
</body></html>
